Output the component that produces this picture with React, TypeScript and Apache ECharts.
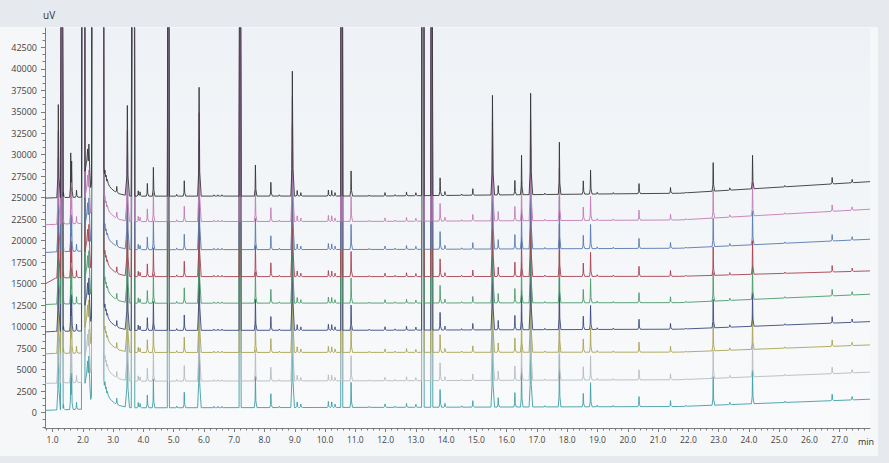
import React, { useEffect, useRef } from 'react';
import * as echarts from 'echarts';

// ---- axes ----
const xMin = 0.75;
const xMax = 28.0;
const yMin = -1800;
const yMax = 44750;
const xMajorTicks = [1, 2, 3, 4, 5, 6, 7, 8, 9, 10, 11, 12, 13, 14, 15, 16, 17, 18, 19, 20, 21, 22, 23, 24, 25, 26, 27];
const yMajorTicks = [0, 2500, 5000, 7500, 10000, 12500, 15000, 17500, 20000, 22500, 25000, 27500, 30000, 32500, 35000, 37500, 40000, 42500];

// ---- traces (bottom to top) ----
const traceNames = ['Run 1', 'Run 2', 'Run 3', 'Run 4', 'Run 5', 'Run 6', 'Run 7', 'Run 8', 'Run 9'];
const traceColors = ['#3f9ea6', '#b7bbbf', '#a9a452', '#3b4a80', '#4c9a6c', '#a9414f', '#5679b0', '#c27cb7', '#363636'];

// baseline level (uV) of each run at these retention times (min)
const baselineTime = [0.75, 1.1, 3.5, 12.0, 21.7, 28.0];
const baseRun1 = [250, 300, 550, 600, 700, 1550];
const baseRun2 = [3400, 3420, 3650, 3700, 3820, 4700];
const baseRun3 = [6830, 6880, 6990, 7000, 7030, 7870];
const baseRun4 = [9380, 9450, 9560, 9580, 9700, 10580];
const baseRun5 = [12570, 12620, 12720, 12740, 12790, 13770];
const baseRun6 = [14950, 15650, 15820, 15820, 15850, 16480];
const baseRun7 = [18620, 18700, 18950, 18980, 19120, 20170];
const baseRun8 = [21850, 21900, 22220, 22250, 22410, 23660];
const baseRun9 = [24950, 25000, 25180, 25200, 25520, 26870];
const baselines = [baseRun1, baseRun2, baseRun3, baseRun4, baseRun5, baseRun6, baseRun7, baseRun8, baseRun9];

// off-scale signal level (detector saturated, above the plotted range)
const OFF = 60000;

// sharp peaks: retention time (min) and height above baseline (uV)
const peakTime = [1.19, 1.36, 1.60, 1.63, 1.79, 3.12, 3.47, 3.83, 3.89, 4.13, 4.33, 5.10, 5.35, 5.84, 6.33, 6.46, 6.59, 7.70, 8.21, 8.49, 8.92, 9.08, 9.20, 10.11, 10.22, 10.33, 10.86, 11.46, 11.98, 12.31, 12.69, 13.00, 13.80, 13.96, 14.51, 14.88, 15.53, 15.72, 16.27, 16.49, 16.79, 17.26, 17.74, 18.53, 18.77, 18.99, 19.52, 20.37, 21.41, 21.92, 22.82, 23.37, 24.12, 25.19, 26.75, 27.41];
const peakHeight = [10830, 600, 4990, 3600, 820, 700, 10480, 620, 500, 1480, 3350, 200, 1790, 12660, 150, 150, 150, 3620, 1600, 150, 14530, 650, 400, 700, 650, 400, 2920, 120, 400, 150, 450, 350, 2050, 450, 150, 750, 11600, 1090, 1670, 4590, 11800, 150, 6070, 1550, 2800, 200, 150, 1170, 680, 100, 3320, 270, 3900, 150, 750, 390];

// narrow peaks that run off scale
const clipTime = [1.31, 4.82, 7.19, 13.52];
// broad off-scale bands
const bandStart = [3.63, 10.53, 13.20];
const bandEnd = [3.70, 10.57, 13.26];

// solvent front region, height above baseline
const solventTime = [1.955, 1.97, 2.055, 2.07, 2.10, 2.13, 2.16, 2.18, 2.20, 2.23, 2.26, 2.285, 2.30, 2.68, 2.695, 2.71, 2.73, 2.75, 2.77, 2.79, 2.81, 2.84, 2.88, 2.95, 3.05, 3.20, 3.40, 3.60];
const solventHeight = [0, OFF, OFF, 3000, 3600, 4300, 5600, 4200, 6160, 3000, 1100, 1500, OFF, OFF, 3400, 2700, 3100, 2300, 2500, 1800, 2000, 1500, 1200, 900, 600, 300, 120, 0];

type Pt = [number, number];

function buildShapes(): Pt[][] {
  const shapes: Pt[][] = [];
  peakTime.forEach((t, i) => {
    const h = peakHeight[i];
    const w = h > 8000 ? 0.05 : 0.036;
    shapes.push([[t - w, 0], [t - w * 0.3, h * 0.22], [t, h], [t + w * 0.4, h * 0.22], [t + w * 1.4, 0]]);
  });
  clipTime.forEach((t) => {
    shapes.push([[t - 0.03, 0], [t, OFF], [t + 0.04, 0]]);
  });
  bandStart.forEach((s, i) => {
    const e = bandEnd[i];
    shapes.push([[s - 0.012, 0], [s, OFF], [e, OFF], [e + 0.015, 0]]);
  });
  shapes.push(solventTime.map((t, i) => [t, solventHeight[i]] as Pt));
  return shapes;
}

function evalPiecewise(pts: Pt[], x: number): number {
  if (x <= pts[0][0] || x >= pts[pts.length - 1][0]) {
    if (x === pts[0][0]) return pts[0][1];
    if (x === pts[pts.length - 1][0]) return pts[pts.length - 1][1];
    return 0;
  }
  for (let i = 0; i < pts.length - 1; i++) {
    const [x0, y0] = pts[i];
    const [x1, y1] = pts[i + 1];
    if (x >= x0 && x <= x1) {
      if (x1 === x0) return y1;
      return y0 + ((y1 - y0) * (x - x0)) / (x1 - x0);
    }
  }
  return 0;
}

function buildSeriesData(base: number[], shapes: Pt[][]): Pt[] {
  const basePts: Pt[] = baselineTime.map((t, i) => [t, base[i]]);
  const times = new Set<number>();
  baselineTime.forEach((t) => times.add(t));
  shapes.forEach((s) => s.forEach((p) => times.add(+p[0].toFixed(4))));
  const sorted = Array.from(times).filter((t) => t >= xMin && t <= xMax).sort((a, b) => a - b);
  return sorted.map((t) => {
    let v = evalPiecewise(basePts, t);
    shapes.forEach((s) => {
      v += evalPiecewise(s, t);
    });
    return [t, Math.round(v)] as Pt;
  });
}

const FONT = '"Open Sans", "Noto Sans", sans-serif';

export default function App() {
  const ref = useRef<HTMLDivElement>(null);
  useEffect(() => {
    if (!ref.current) return;
    const chart = echarts.init(ref.current, null, { renderer: 'svg' });
    const shapes = buildShapes();
    const xMinor: number[] = [];
    for (let k = 4; k <= 139; k++) {
      const v = +(k * 0.2).toFixed(1);
      if (Math.abs(v - Math.round(v)) > 1e-6) xMinor.push(v);
    }
    const yMinor: number[] = [];
    for (let k = -2; k <= 53; k++) {
      const v = (k * 2500) / 3;
      if (k % 3 !== 0) yMinor.push(v);
    }
    const axisColor = '#7c7c7c';
    chart.setOption({
      animation: false,
      backgroundColor: '#e6e9ed',
      graphic: [
        {
          type: 'rect',
          z: -10,
          silent: true,
          shape: { x: 0, y: 27, width: 878, height: 429 },
          style: { fill: '#f5f7f9' },
        },
        {
          type: 'text',
          x: 43,
          y: 15,
          style: { text: 'uV', fill: '#333', font: `10px ${FONT}`, textVerticalAlign: 'middle' },
        },
        {
          type: 'text',
          x: 866,
          y: 441,
          style: { text: 'min', fill: '#333', font: `9px ${FONT}`, textAlign: 'center', textVerticalAlign: 'middle' },
        },
      ],
      grid: {
        left: 45,
        right: 19,
        top: 28,
        bottom: 35,
        show: true,
        borderWidth: 0,
        backgroundColor: {
          type: 'linear', x: 0, y: 0, x2: 0, y2: 1,
          colorStops: [
            { offset: 0, color: '#eef2f6' },
            { offset: 1, color: '#f9fafb' },
          ],
        },
      },
      xAxis: [
        {
          type: 'value',
          min: xMin,
          max: xMax,
          position: 'bottom',
          axisLine: { show: true, onZero: false, lineStyle: { color: axisColor, width: 1 } },
          axisTick: { show: true, customValues: xMajorTicks, length: 4, lineStyle: { color: axisColor } },
          axisLabel: {
            show: true,
            customValues: xMajorTicks,
            formatter: (v: number) => v.toFixed(1),
            fontSize: 8.5,
            fontFamily: FONT,
            color: '#444',
            margin: 7,
          },
          splitLine: { show: false },
        },
        {
          type: 'value',
          min: xMin,
          max: xMax,
          position: 'bottom',
          offset: 0,
          axisLine: { show: false, onZero: false },
          axisTick: { show: true, customValues: xMinor, length: 2.5, lineStyle: { color: axisColor } },
          axisLabel: { show: false },
          splitLine: { show: false },
        },
      ],
      yAxis: [
        {
          type: 'value',
          min: yMin,
          max: yMax,
          position: 'left',
          axisLine: { show: true, onZero: false, lineStyle: { color: axisColor, width: 1 } },
          axisTick: { show: true, customValues: yMajorTicks, length: 4, lineStyle: { color: axisColor } },
          axisLabel: {
            show: true,
            customValues: yMajorTicks,
            formatter: (v: number) => String(Math.round(v)),
            fontSize: 9,
            fontFamily: FONT,
            color: '#444',
            margin: 8,
          },
          splitLine: { show: false },
        },
        {
          type: 'value',
          min: yMin,
          max: yMax,
          position: 'left',
          offset: 0,
          axisLine: { show: false, onZero: false },
          axisTick: { show: true, customValues: yMinor, length: 2.5, lineStyle: { color: axisColor } },
          axisLabel: { show: false },
          splitLine: { show: false },
        },
      ],
      series: baselines.map((base, i) => ({
        type: 'line',
        name: traceNames[i],
        xAxisIndex: 0,
        yAxisIndex: 0,
        data: buildSeriesData(base, shapes),
        showSymbol: false,
        symbol: 'none',
        clip: true,
        silent: true,
        lineStyle: { color: traceColors[i], width: 0.9 },
        itemStyle: { color: traceColors[i] },
      })),
    });
    return () => chart.dispose();
  }, []);
  return (
    <div
      ref={ref}
      style={{ position: 'fixed', left: 0, top: 0, width: 889, height: 463 }}
    />
  );
}
